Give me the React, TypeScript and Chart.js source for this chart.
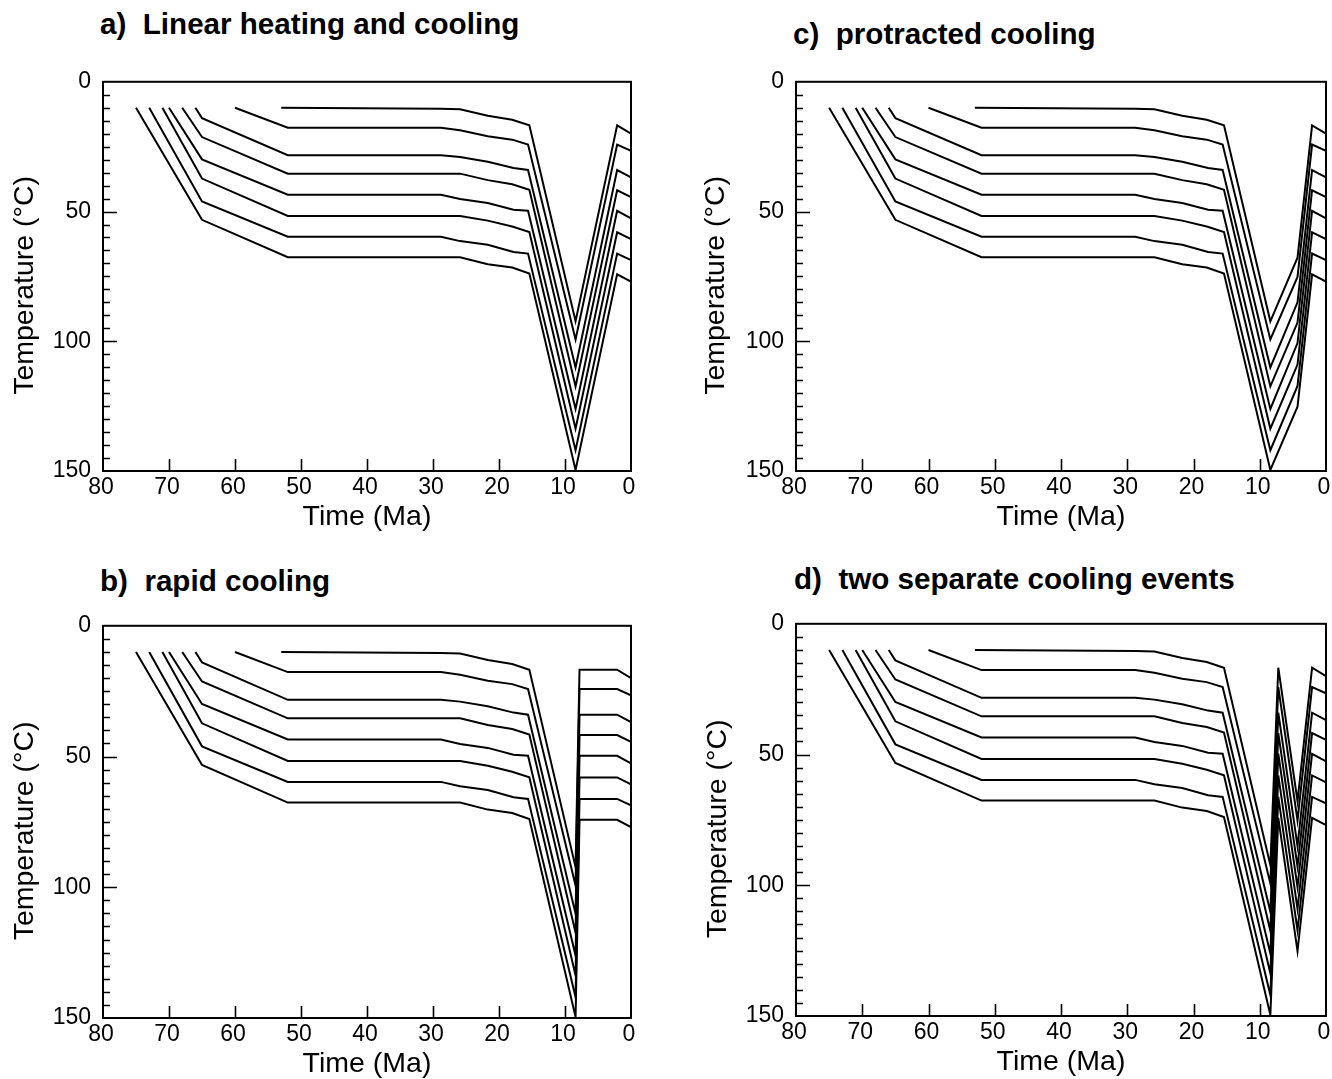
import React, { useEffect, useRef } from "react";
import { Chart, registerables } from "chart.js";

Chart.register(...registerables);

// ---- Thermal histories: [age (Ma), temperature (°C)] -------------------------
// Shared burial / heating history of the eight samples up to the onset of
// the late Miocene heating pulse.
const line1History = [[53, 10], [28.8, 10.4], [25.9, 10.6], [21.7, 13.1], [18.0, 14.6], [15.4, 16.8]];
const line2History = [[60, 10], [52, 17.7], [28.8, 17.7], [25.9, 18.7], [21.7, 21.0], [18.0, 22.3], [15.6, 24.2]];
const line3History = [[66, 10], [65, 14.0], [52, 28.3], [28.8, 28.3], [25.9, 29.0], [21.7, 30.8], [17.8, 33.2], [15.6, 34.0]];
const line4History = [[68, 10], [65, 21.3], [52, 35.4], [25.9, 35.4], [21.7, 37.9], [18.0, 39.5], [15.4, 41.6]];
const line5History = [[70, 10], [65, 29.9], [52, 43.5], [28.8, 43.5], [25.9, 45.2], [21.7, 46.7], [17.8, 49.3], [15.6, 49.7]];
const line6History = [[71, 10], [65, 37.3], [52, 51.7], [25.9, 51.7], [21.7, 53.5], [18.0, 55.8], [15.4, 57.9]];
const line7History = [[73, 10], [65, 46.1], [52, 59.7], [28.8, 59.7], [25.9, 61.4], [21.7, 62.8], [17.8, 65.6], [15.6, 66.2]];
const line8History = [[75, 10], [65, 53.2], [52, 67.6], [25.9, 67.6], [21.7, 70.3], [18.0, 71.6], [15.4, 73.9]];

const sharedHistories = [
  line1History, line2History, line3History, line4History,
  line5History, line6History, line7History, line8History,
];

// Maximum temperatures reached at the peak of heating
const peakHeatingAge = 8.4;
const peakTemps = [92.3, 99.3, 110.1, 117.4, 126.1, 133.7, 142.0, 149.6];

// Temperatures after exhumation, at the reheating stop and at present day
const exhumedTemps = [16.8, 24.2, 34.0, 41.8, 49.7, 58.0, 66.2, 74.2];
const reheatTemps = [67.8, 75.2, 85.0, 92.8, 100.7, 109.0, 117.2, 125.2];
const presentTemps = [20.0, 26.6, 36.8, 44.4, 52.6, 60.6, 68.7, 77.0];

// Ages (Ma) of the cooling-path nodes in each scenario
const exhumedAge = 2.1;
const rapidCoolingAge = 7.8;
const firstCoolingAge = 7.2;
const reheatAge = 4.3;
const presentAge = 0;

// Axis ticks
const timeTicks = [0, 10, 20, 30, 40, 50, 60, 70, 80];
const tempTicks = [0, 50, 100, 150];
const tempMinorStep = 5;

const xAxisTitle = "Time (Ma)";
const yAxisTitle = "Temperature (°C)";

type Pt = [number, number];

// Scenario-specific cooling path appended after peak heating (sample i)
const tails: Record<string, (i: number) => Pt[]> = {
  a: (i) => [[exhumedAge, exhumedTemps[i]], [presentAge, presentTemps[i]]],
  b: (i) => [
    [rapidCoolingAge, exhumedTemps[i]],
    [exhumedAge, exhumedTemps[i]],
    [presentAge, presentTemps[i]],
  ],
  c: (i) => [[reheatAge, reheatTemps[i]], [exhumedAge, exhumedTemps[i]], [presentAge, presentTemps[i]]],
  d: (i) => [
    [firstCoolingAge, exhumedTemps[i]],
    [reheatAge, reheatTemps[i]],
    [exhumedAge, exhumedTemps[i]],
    [presentAge, presentTemps[i]],
  ],
};

// ---- Layout ------------------------------------------------------------------
const FONT = '"Liberation Sans", Arial, Helvetica, sans-serif';
const HEADING_SIZE = 29.6;
const AXIS_TITLE_SIZE = 28.5;
const TICK_SIZE = 23;

type PanelSpec = {
  key: string;
  title: string;
  canvas: { left: number; top: number; width: number; height: number };
  area: { left: number; top: number; right: number; bottom: number };
  yTitleX: number; // page x of the rotated y title centre
  heading: { left: number; baseline: number };
};

const PANELS: PanelSpec[] = [
  {
    key: "a",
    title: "a)  Linear heating and cooling",
    canvas: { left: 0, top: 56, width: 660, height: 475 },
    area: { left: 103, top: 78, right: 631, bottom: 471 },
    yTitleX: 25,
    heading: { left: 100, baseline: 34 },
  },
  {
    key: "b",
    title: "b)  rapid cooling",
    canvas: { left: 0, top: 600, width: 660, height: 478 },
    area: { left: 103, top: 625, right: 631, bottom: 1018 },
    yTitleX: 25,
    heading: { left: 100, baseline: 591 },
  },
  {
    key: "c",
    title: "c)  protracted cooling",
    canvas: { left: 690, top: 56, width: 642, height: 475 },
    area: { left: 796, top: 78, right: 1326, bottom: 471 },
    yTitleX: 716,
    heading: { left: 793, baseline: 44 },
  },
  {
    key: "d",
    title: "d)  two separate cooling events",
    canvas: { left: 690, top: 598, width: 642, height: 478 },
    area: { left: 796, top: 623, right: 1326, bottom: 1016 },
    yTitleX: 718,
    heading: { left: 794, baseline: 589 },
  },
];

// Frame around the plot area, inward-pointing tick marks and the y title
const frameAndTicks = {
  id: "frameAndTicks",
  afterDatasetsDraw(chart: any, _args: any, opts: any) {
    const { ctx, chartArea, scales } = chart;
    const { left, right, top, bottom } = chartArea;
    const xs = scales.x;
    const ys = scales.y;
    ctx.save();
    ctx.strokeStyle = "#000";
    ctx.lineWidth = 1.6;
    ctx.beginPath();
    for (const t of timeTicks) {
      if (t === timeTicks[0] || t === timeTicks[timeTicks.length - 1]) continue;
      const px = Math.round(xs.getPixelForValue(t)) + 0.5;
      ctx.moveTo(px, bottom);
      ctx.lineTo(px, bottom - 12);
    }
    const maxT = tempTicks[tempTicks.length - 1];
    for (let v = tempMinorStep; v < maxT; v += tempMinorStep) {
      const py = Math.round(ys.getPixelForValue(v)) + 0.5;
      const len = tempTicks.includes(v) ? 14 : 7;
      ctx.moveTo(left, py);
      ctx.lineTo(left + len, py);
    }
    ctx.stroke();
    ctx.lineWidth = 2;
    ctx.strokeRect(left, top, right - left, bottom - top);

    // rotated temperature axis title
    ctx.translate(opts.titleX, (top + bottom) / 2 + 9);
    ctx.rotate(-Math.PI / 2);
    ctx.fillStyle = "#000";
    ctx.font = `${AXIS_TITLE_SIZE}px ${FONT}`;
    ctx.textAlign = "center";
    ctx.textBaseline = "middle";
    ctx.fillText(yAxisTitle, 0, 0);
    ctx.restore();
  },
};

function Panel({ spec }: { spec: PanelSpec }) {
  const ref = useRef<HTMLCanvasElement | null>(null);

  useEffect(() => {
    const canvas = ref.current;
    if (!canvas) return;
    const { canvas: box, area } = spec;
    const yWidth = area.left - box.left;
    const xHeight = box.top + box.height - area.bottom;
    const tail = tails[spec.key];

    const datasets = sharedHistories.map((hist, i) => {
      const pts: Pt[] = [
        ...(hist as Pt[]),
        [peakHeatingAge, peakTemps[i]],
        ...tail(i),
      ];
      return {
        label: `sample ${i + 1}`,
        data: pts.map(([t, T]) => ({ x: t, y: T })),
        borderColor: "#000",
        borderWidth: 2,
        pointRadius: 0,
        tension: 0,
        fill: false,
        borderJoinStyle: "miter" as const,
      };
    });

    const chart = new Chart(canvas, {
      type: "line",
      data: { datasets },
      options: {
        animation: false,
        responsive: false,
        maintainAspectRatio: false,
        devicePixelRatio: 1,
        layout: {
          padding: {
            top: area.top - box.top,
            right: box.left + box.width - area.right,
            bottom: 0,
            left: 0,
          },
        },
        plugins: {
          legend: { display: false },
          tooltip: { enabled: false },
          title: { display: false },
          frameAndTicks: { titleX: spec.yTitleX - box.left },
        } as any,
        scales: {
          x: {
            type: "linear",
            reverse: true,
            min: timeTicks[0],
            max: timeTicks[timeTicks.length - 1],
            afterFit: (s: any) => {
              s.height = xHeight;
            },
            afterBuildTicks: (s: any) => {
              s.ticks = timeTicks.map((v) => ({ value: v }));
            },
            grid: { display: false, drawTicks: false },
            border: { display: false },
            ticks: {
              color: "#000",
              padding: 3,
              labelOffset: -2,
              maxRotation: 0,
              autoSkip: false,
              font: { family: FONT, size: TICK_SIZE },
            },
            title: {
              display: true,
              text: xAxisTitle,
              color: "#000",
              padding: { top: 0, bottom: 0 },
              font: { family: FONT, size: AXIS_TITLE_SIZE, lineHeight: 1 },
            },
          },
          y: {
            type: "linear",
            reverse: true,
            min: tempTicks[0],
            max: tempTicks[tempTicks.length - 1],
            afterFit: (s: any) => {
              s.width = yWidth;
            },
            afterBuildTicks: (s: any) => {
              s.ticks = tempTicks.map((v) => ({ value: v }));
            },
            grid: { display: false, drawTicks: false },
            border: { display: false },
            ticks: {
              color: "#000",
              padding: 12,
              autoSkip: false,
              font: { family: FONT, size: TICK_SIZE },
            },
            title: { display: false },
          },
        },
      },
      plugins: [frameAndTicks],
    });

    return () => chart.destroy();
  }, [spec]);

  const { canvas: box, heading } = spec;
  return (
    <>
      <div
        style={{
          position: "absolute",
          left: heading.left,
          top: heading.baseline - 0.8465 * HEADING_SIZE,
          font: `bold ${HEADING_SIZE}px ${FONT}`,
          lineHeight: `${HEADING_SIZE}px`,
          whiteSpace: "pre",
          color: "#000",
          margin: 0,
        }}
      >
        {spec.title}
      </div>
      <canvas
        ref={ref}
        width={box.width}
        height={box.height}
        style={{
          position: "absolute",
          left: box.left,
          top: box.top,
          width: box.width,
          height: box.height,
        }}
      />
    </>
  );
}

export default function App() {
  return (
    <div style={{ background: "#fff" }}>
      {PANELS.map((p) => (
        <Panel key={p.key} spec={p} />
      ))}
    </div>
  );
}
